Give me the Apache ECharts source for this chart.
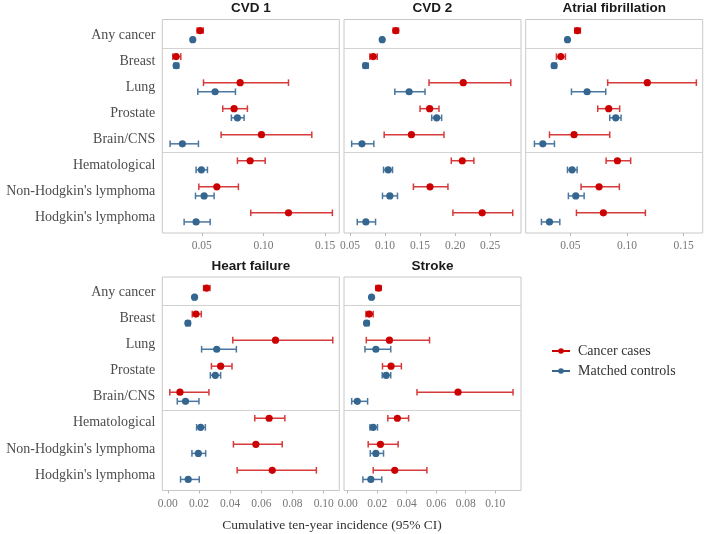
<!DOCTYPE html>
<html><head><meta charset="utf-8">
<script src="https://cdn.jsdelivr.net/npm/echarts@6/dist/echarts.min.js"></script>
<style>html,body{margin:0;padding:0;background:#fff}#c{width:705px;height:534px}</style>
</head><body><div id="c"></div>
<script>
const categories = ['Any cancer','Breast','Lung','Prostate','Brain/CNS','Hematological',"Non-Hodgkin's lymphoma","Hodgkin's lymphoma"];
const panelTitles = ['CVD 1','CVD 2','Atrial fibrillation','Heart failure','Stroke'];
const seriesNames = ['Cancer cases','Matched controls'];

// each row: [estimate, lower 95% CI, upper 95% CI]
const cvd1Cases = [[0.0486,0.0462,0.0512],[0.0292,0.0265,0.0330],[0.0811,0.0514,0.1203],[0.0762,0.0670,0.0870],[0.0984,0.0657,0.1392],[0.0892,0.0789,0.1014],[0.0622,0.0476,0.0797],[0.1203,0.0897,0.1559]];
const cvd1Ctrls = [[0.0427,0.0419,0.0435],[0.0292,0.0276,0.0313],[0.0608,0.0468,0.0773],[0.0789,0.0740,0.0843],[0.0343,0.0243,0.0473],[0.0497,0.0454,0.0546],[0.0519,0.0449,0.0600],[0.0454,0.0357,0.0568]];
const cvd2Cases = [[0.1154,0.1116,0.1192],[0.0832,0.0784,0.0889],[0.2116,0.1628,0.2794],[0.1637,0.1500,0.1770],[0.1377,0.0988,0.1841],[0.2102,0.1945,0.2268],[0.1642,0.1405,0.1898],[0.2386,0.1969,0.2822]];
const cvd2Ctrls = [[0.0960,0.0945,0.0975],[0.0723,0.0690,0.0760],[0.1344,0.1140,0.1571],[0.1737,0.1666,0.1808],[0.0671,0.0524,0.0841],[0.1045,0.0979,0.1107],[0.1069,0.0964,0.1178],[0.0727,0.0604,0.0865]];
const afCases = [[0.0562,0.0538,0.0588],[0.0415,0.0376,0.0456],[0.1179,0.0829,0.1612],[0.0838,0.0741,0.0935],[0.0532,0.0315,0.0847],[0.0915,0.0815,0.1032],[0.0753,0.0594,0.0932],[0.0791,0.0553,0.1162]];
const afCtrls = [[0.0474,0.0465,0.0483],[0.0356,0.0338,0.0376],[0.0647,0.0509,0.0812],[0.0900,0.0847,0.0947],[0.0256,0.0182,0.0359],[0.0515,0.0474,0.0559],[0.0547,0.0482,0.0621],[0.0315,0.0244,0.0406]];
const hfCases = [[0.0249,0.0230,0.0271],[0.0181,0.0157,0.0215],[0.0691,0.0417,0.1058],[0.0339,0.0280,0.0412],[0.0078,0.0013,0.0264],[0.0650,0.0558,0.0751],[0.0565,0.0421,0.0734],[0.0670,0.0445,0.0953]];
const hfCtrls = [[0.0172,0.0166,0.0178],[0.0129,0.0116,0.0142],[0.0314,0.0217,0.0440],[0.0305,0.0273,0.0339],[0.0114,0.0061,0.0200],[0.0211,0.0185,0.0241],[0.0196,0.0155,0.0243],[0.0131,0.0082,0.0202]];
const strokeCases = [[0.0209,0.0191,0.0227],[0.0146,0.0124,0.0173],[0.0283,0.0126,0.0555],[0.0294,0.0236,0.0364],[0.0748,0.0470,0.1121],[0.0337,0.0272,0.0413],[0.0222,0.0139,0.0342],[0.0319,0.0173,0.0537]];
const strokeCtrls = [[0.0162,0.0157,0.0167],[0.0128,0.0115,0.0144],[0.0191,0.0117,0.0292],[0.0261,0.0234,0.0292],[0.0065,0.0027,0.0135],[0.0173,0.0151,0.0202],[0.0191,0.0153,0.0243],[0.0157,0.0103,0.0231]];

const xTicks = [[0.05,0.10,0.15],[0.05,0.10,0.15,0.20,0.25],[0.05,0.10,0.15],[0,0.02,0.04,0.06,0.08,0.10],[0,0.02,0.04,0.06,0.08,0.10]];
const xRanges = [[0.018,0.1615],[0.0415,0.294],[0.0105,0.1668],[-0.0035,0.110],[-0.0025,0.1175]];
const groupSeparators = [0.5, 4.5];
const axisTitle = 'Cumulative ten-year incidence (95% CI)';

const panelData = [[cvd1Cases,cvd1Ctrls],[cvd2Cases,cvd2Ctrls],[afCases,afCtrls],[hfCases,hfCtrls],[strokeCases,strokeCtrls]];
const colors = ['#cc0000','#35668f'];
const barColors = ['#d63a3a','#4a77a0'];
const dodge = 0.175;

const W = 177, H = 213.5;
const lefts = [162.3, 344, 525.7, 162.3, 344];
const tops = [19.5, 19.5, 19.5, 277, 277];
const serif = '"Liberation Serif", serif';

function render(ci){
  return function(params, api){
    const est = api.value(0), lo = api.value(1), hi = api.value(2), y = api.value(3);
    const a = api.coord([lo, y]), b = api.coord([hi, y]), p = api.coord([est, y]);
    const cap = 3.3, st = {stroke: barColors[ci], lineWidth: 1.5};
    return {type:'group', children:[
      {type:'line', shape:{x1:a[0],y1:a[1],x2:b[0],y2:b[1]}, style:st},
      {type:'line', shape:{x1:a[0],y1:a[1]-cap,x2:a[0],y2:a[1]+cap}, style:st},
      {type:'line', shape:{x1:b[0],y1:b[1]-cap,x2:b[0],y2:b[1]+cap}, style:st},
      {type:'circle', shape:{cx:p[0],cy:p[1],r:3.6}, style:{fill:colors[ci]}}
    ]};
  };
}

const grid = [], xAxis = [], yAxis = [], series = [], graphic = [];
panelData.forEach((groups, k) => {
  grid.push({left: lefts[k], top: tops[k], width: W, height: H, show: true, borderColor: '#c8c8c8', borderWidth: 1, containLabel: false});
  xAxis.push({type:'value', gridIndex:k, position:'bottom', min:xRanges[k][0], max:xRanges[k][1],
    axisLine:{show:false, onZero:false}, splitLine:{show:false},
    axisTick:{show:true, length:3, lineStyle:{color:'#b8b8b8'}, customValues: xTicks[k]},
    axisLabel:{customValues: xTicks[k], formatter: v => v.toFixed(2), color:'#777', fontFamily: serif, fontSize: 11.5, margin: 7}});
  const showY = (k === 0 || k === 3);
  yAxis.push({type:'value', gridIndex:k, inverse:true, min:-0.6, max:7.6,
    axisLine:{show:false, onZero:false}, splitLine:{show:false}, axisTick:{show:false},
    axisLabel:{show: showY, customValues: categories.map((c,i)=>i), formatter: v => categories[Math.round(v)], color:'#4d4d4d', fontFamily: serif, fontSize: 14, margin: 7}});
  groups.forEach((rows, gi) => {
    const off = gi === 0 ? -dodge : dodge;
    const s = {type:'custom', name: seriesNames[gi] + ' ' + k, xAxisIndex:k, yAxisIndex:k,
      data: rows.map((r,i) => [r[0], r[1], r[2], i + off]),
      encode:{x:[0,1,2], y:3}, renderItem: render(gi), animation:false, silent:true};
    if (gi === 0) {
      s.markLine = {silent:true, symbol:['none','none'], label:{show:false}, animation:false,
        lineStyle:{color:'#d2d2d2', width:1, type:'solid'},
        data: groupSeparators.map(v => ({yAxis: v}))};
    }
    series.push(s);
  });
  graphic.push({type:'text', x: lefts[k] + W/2, y: tops[k] - 11.2,
    style:{text: panelTitles[k], align:'center', verticalAlign:'middle', textAlign:'center', textVerticalAlign:'middle',
      font:'bold 13.5px "Liberation Sans", sans-serif', fill:'#1a1a1a'}});
});
graphic.push({type:'text', x: 332, y: 525,
  style:{text: axisTitle, align:'center', verticalAlign:'middle', textAlign:'center', textVerticalAlign:'middle',
    font:'13.5px "Liberation Serif", serif', fill:'#333'}});

seriesNames.forEach((n, gi) => {
  series.unshift({type:'line', name:n, xAxisIndex:0, yAxisIndex:0, data:[], symbol:'circle', symbolSize:6,
    itemStyle:{color:colors[gi]}, lineStyle:{color:colors[gi], width:1.5}});
});

const chart = echarts.init(document.getElementById('c'), null, {renderer:'canvas'});
chart.setOption({
  animation:false,
  grid, xAxis, yAxis, series, graphic,
  legend:{data: seriesNames, orient:'vertical', left: 546, top: 339, itemWidth: 18, itemHeight: 7, itemGap: 6,
    textStyle:{fontFamily: serif, fontSize: 14, color:'#333', padding:[0,0,0,3]}}
});
</script></body></html>
